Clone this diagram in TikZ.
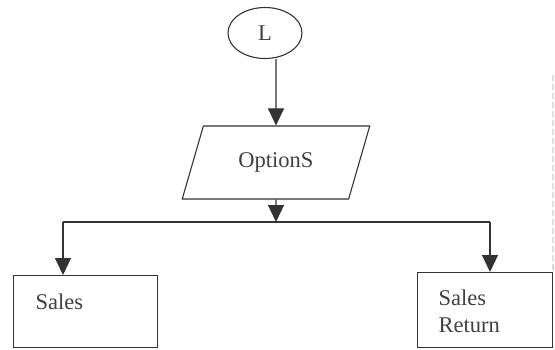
\documentclass[tikz,border=0pt]{standalone}
\usepackage{fontspec}
\setmainfont{Liberation Serif}
\usetikzlibrary{shapes.geometric,arrows.meta}
\begin{document}
\begin{tikzpicture}[x=1pt,y=-1pt,
  line width=1.1pt,
  ink/.style={draw=black!80},
  arr/.style={ink,-{Triangle[width=16pt,length=17pt]}},
  txt/.style={font=\fontsize{22.5}{27}\selectfont, text=black!75},
  boxnode/.style={ink, rectangle, inner sep=0pt, anchor=north west}]
\useasboundingbox (0,0) rectangle (555,349);
\node[ink, ellipse, minimum width=74pt, minimum height=51pt, inner sep=0pt, txt] (L) at (265,33) {L};
\node[ink, trapezium, trapezium left angle=61, trapezium right angle=119,
      trapezium stretches=true, minimum width=188pt, minimum height=73pt,
      inner sep=0pt, txt] (opt) at (276,162.5) {OptionS};
\coordinate (jn) at (276,222);
\coordinate (jl) at (63,222);
\coordinate (jr) at (490,222);
\node[boxnode, minimum width=144pt, minimum height=72pt] (sales) at (13,275) {};
\node[boxnode, minimum width=135pt, minimum height=75pt] (ret) at (417,272) {};
\node[txt, anchor=west, inner sep=0pt] (salest) at (35,302) {Sales};
\node[txt, anchor=north west, align=left, inner sep=0pt] (rett) at (438,289) {Sales\\Return};
\draw[arr] (L.south -| opt.center) -- (opt.north);
\draw[arr] (opt.south) -- (jn);
\draw[ink] (jl) -- (jr);
\draw[arr] (jl) -- (jl |- sales.north);
\draw[arr] (jr) -- (jr |- ret.north);
\coordinate (f1) at (553,75);
\draw[black!35, line width=0.8pt, dash pattern=on 6pt off 3pt] (f1) -- (ret.north east);
\end{tikzpicture}
\end{document}
